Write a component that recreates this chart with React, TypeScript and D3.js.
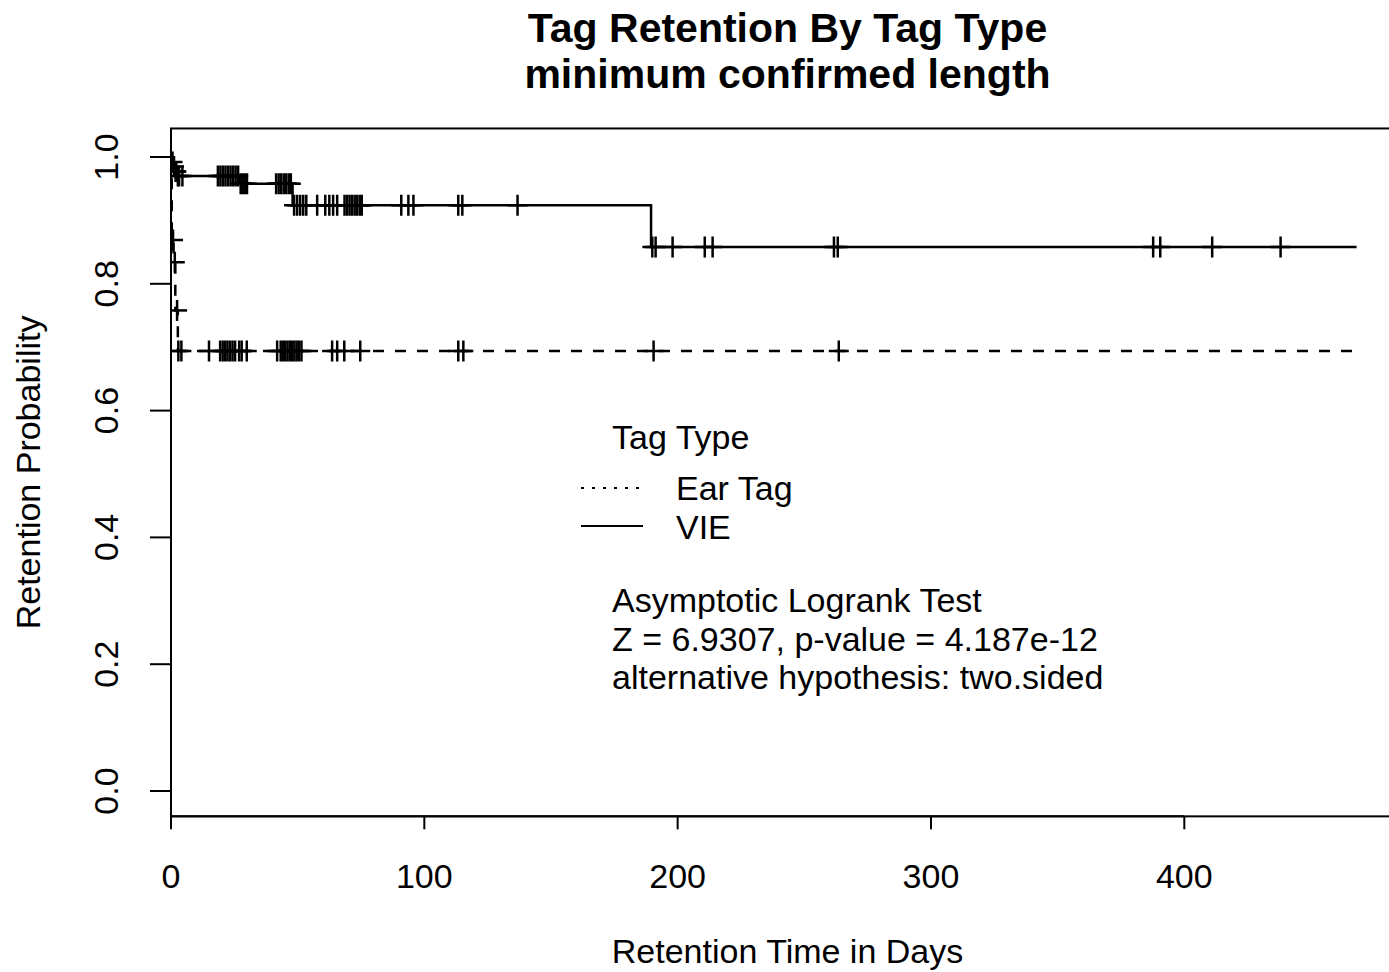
import React from "react";
import * as d3 from "d3";

// Kaplan-Meier style step data: [day, retention after step]
const vieSteps: [number, number][] = [
  [0, 1], [0.4, 0.992], [0.9, 0.985], [1.6, 0.977], [2.4, 0.97],
  [27, 0.958], [48, 0.924], [189.5, 0.858],
];
const vieCensor = [
  0.6, 1.2, 1.8, 2.1, 2.7, 3.2, 4.5,
  18.5, 19.5, 20.5, 21.5, 22.5, 23.5, 24.5, 25.5, 26.5,
  27.5, 28.3, 29.1, 30,
  41.5, 42.5, 43.5, 44.5, 45.5, 46.5, 47.3,
  48.6, 49.8, 51, 52.2, 53.4, 57.7, 60.9, 62.5, 64, 65.6,
  68.5, 69.5, 70.5, 71.5, 72.5, 73.5, 74.5, 75.3,
  90.9, 93.7, 95.7, 113.4, 115, 136.8,
  190, 191.3, 198, 210.7, 213.8, 261.7, 263.2, 387.7, 390.5, 411, 438,
];
const earSteps: [number, number][] = [
  [0, 1], [0.3, 0.869], [1.0, 0.834], [1.7, 0.758], [2.7, 0.694],
];
const earCensor = [
  0.8, 1.5, 2.4, 2.9, 4.1, 15,
  19.4, 20.4, 21.4, 22.3, 23.3, 24.3, 25.3, 26.9, 27.9, 29.9,
  41.9, 43.3, 44.2, 45.1, 46, 46.9, 47.8, 48.7, 49.6, 50.5, 51.5,
  63.6, 65.6, 68.4, 74.7, 113.4, 115.4, 190.5, 263.6,
];
const lastDay = 468;
const xTicks = [0, 100, 200, 300, 400];
const yTicks = [0, 0.2, 0.4, 0.6, 0.8, 1.0];
const legendLabels = ["Ear Tag", "VIE"];
const testLines = [
  "Asymptotic Logrank Test",
  "Z = 6.9307, p-value = 4.187e-12",
  "alternative hypothesis: two.sided",
];

const font = "'Liberation Sans', Arial, Helvetica, sans-serif";

export default function App() {
  const width = 1389;
  const height = 972;
  const x = d3.scaleLinear().domain([0, lastDay * 1.04]).range([171, 1404]);
  const y = d3.scaleLinear().domain([0, 1]).range([791, 157]);
  const top = y(1.045);
  const bottom = y(-0.04);

  const line = d3
    .line<[number, number]>()
    .x((d) => x(d[0]))
    .y((d) => y(d[1]))
    .curve(d3.curveStepAfter);

  const survAt = (steps: [number, number][], t: number) => {
    let s = steps[0][1];
    for (const [tt, ss] of steps) if (tt <= t) s = ss;
    return s;
  };

  const withEnd = (steps: [number, number][]) =>
    [...steps, [lastDay, steps[steps.length - 1][1]] as [number, number]];

  const plus = (t: number, steps: [number, number][], key: string) => {
    const cx = x(t);
    const cy = y(survAt(steps, t));
    return (
      <g key={key}>
        <line x1={cx - 10} x2={cx + 10} y1={cy} y2={cy} />
        <line x1={cx} x2={cx} y1={cy - 10.5} y2={cy + 10.5} />
      </g>
    );
  };

  return (
    <svg
      width={width}
      height={height}
      style={{ position: "absolute", left: 0, top: 0, display: "block", background: "#fff" }}
      fontFamily={font}
    >
      <defs>
        <clipPath id="plotclip">
          <rect x={171} y={top} width={1404 - 171} height={bottom - top} />
        </clipPath>
      </defs>

      {/* title */}
      <text x={787.5} y={42} textAnchor="middle" fontSize={41} fontWeight="bold">
        Tag Retention By Tag Type
      </text>
      <text x={787.5} y={88} textAnchor="middle" fontSize={41} fontWeight="bold">
        minimum confirmed length
      </text>

      {/* curves */}
      <g clipPath="url(#plotclip)" fill="none" stroke="#000" strokeWidth={2.5}>
        <path d={line(withEnd(vieSteps)) || ""} />
        <path d={line(withEnd(earSteps)) || ""} strokeDasharray="11,11" />
        {vieCensor.map((t, i) => plus(t, vieSteps, "v" + i))}
        {earCensor.map((t, i) => plus(t, earSteps, "e" + i))}
      </g>

      {/* box */}
      <rect x={171} y={top} width={1404 - 171} height={bottom - top} fill="none" stroke="#000" strokeWidth={2} />

      {/* x axis */}
      <g stroke="#000" strokeWidth={2}>
        <line x1={x(0)} x2={x(400)} y1={bottom} y2={bottom} />
        {xTicks.map((t) => (
          <line key={t} x1={x(t)} x2={x(t)} y1={bottom} y2={bottom + 13} />
        ))}
      </g>
      {xTicks.map((t) => (
        <text key={t} x={x(t)} y={888} textAnchor="middle" fontSize={34}>
          {t}
        </text>
      ))}
      <text x={787.5} y={963} textAnchor="middle" fontSize={34}>
        Retention Time in Days
      </text>

      {/* y axis */}
      <g stroke="#000" strokeWidth={2}>
        <line x1={171} x2={171} y1={y(0)} y2={y(1)} />
        {yTicks.map((t) => (
          <line key={t} x1={150} x2={171} y1={y(t)} y2={y(t)} />
        ))}
      </g>
      {yTicks.map((t) => (
        <text
          key={t}
          transform={`translate(118,${y(t)}) rotate(-90)`}
          textAnchor="middle"
          fontSize={34}
        >
          {t.toFixed(1)}
        </text>
      ))}
      <text
        transform={`translate(40,${(top + bottom) / 2}) rotate(-90)`}
        textAnchor="middle"
        fontSize={34}
      >
        Retention Probability
      </text>

      {/* legend */}
      <text x={612} y={449} fontSize={34}>Tag Type</text>
      <g stroke="#000" strokeWidth={2}>
        <line x1={581} x2={643} y1={488} y2={488} strokeDasharray="3,8" />
        <line x1={581} x2={643} y1={526} y2={526} />
      </g>
      {legendLabels.map((l, i) => (
        <text key={l} x={676} y={500 + i * 39} fontSize={34}>
          {l}
        </text>
      ))}

      {/* test result */}
      {testLines.map((l, i) => (
        <text key={l} x={612} y={612 + i * 38.5} fontSize={34}>
          {l}
        </text>
      ))}
    </svg>
  );
}
